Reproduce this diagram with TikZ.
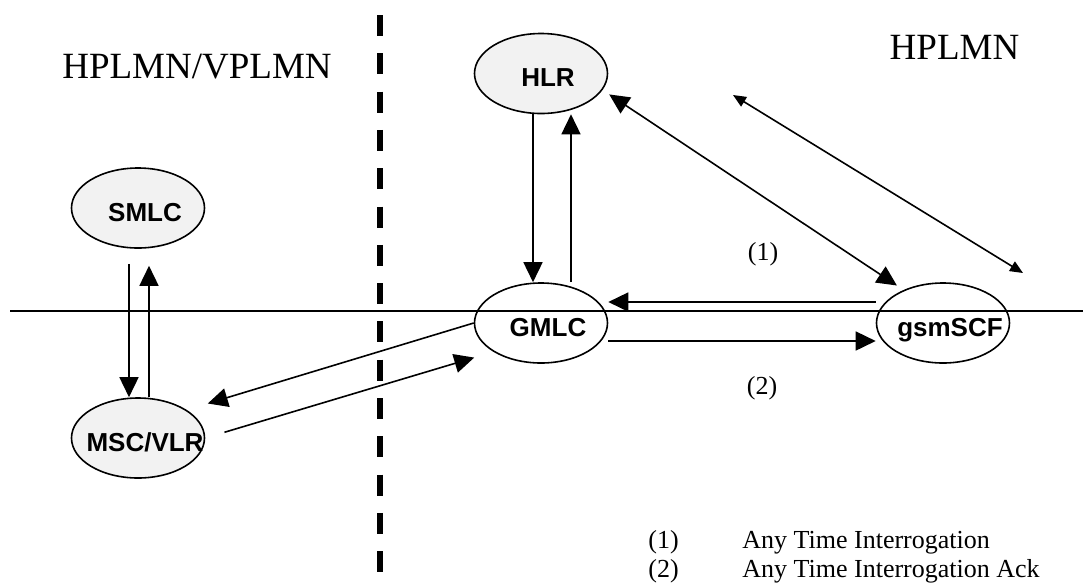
\documentclass[tikz,border=0pt]{standalone}
\usepackage{fontspec}
\setmainfont{Liberation Serif}
\setsansfont{Liberation Sans}
\usetikzlibrary{arrows.meta,shapes.geometric}
\definecolor{entgray}{HTML}{F2F2F2}
\newcommand{\enttext}[1]{\makebox[0pt]{\hspace*{7pt}\raisebox{-2pt}{#1}}}

\begin{document}
\begin{tikzpicture}[x=0.5pt, y=-0.5pt,
  ent/.style={draw, ellipse, line width=0.8pt, fill=#1, inner sep=0pt,
              minimum width=66.5pt, minimum height=40pt,
              text height=9.3pt, text depth=0pt,
              font=\sffamily\bfseries\fontsize{13}{15}\selectfont},
  ent/.default=none,
  zone/.style={inner sep=0pt, anchor=base, font=\fontsize{18.5}{22}\selectfont},
  lbl/.style={inner sep=0pt, font=\fontsize{13}{15}\selectfont},
  arr/.style={-{Triangle[length=10pt,width=9.5pt]}, line width=0.8pt},
  dblarr/.style={{Triangle[length=10pt,width=9.5pt]}-{Triangle[length=10pt,width=9.5pt]},
                 line width=0.8pt},
  dblsmall/.style={{Triangle[length=6.5pt,width=5.5pt]}-{Triangle[length=6.5pt,width=5.5pt]},
                   line width=0.8pt}
]
  \useasboundingbox (0,0) rectangle (1083,585);

  % --- Limites des reseaux ---
  \draw[line width=1pt] (10,311) -- (1083,311);
  \draw[line width=3pt, dash pattern=on 10.5pt off 8.65pt] (380,15) -- (380,572);

  \node[zone] (visite) at (197,78) {HPLMN/VPLMN};
  \node[zone] (home)   at (954.5,59) {HPLMN};

  % --- Entites ---
  \node[ent=entgray] (smlc) at (138,208)   {\enttext{SMLC}};
  \node[ent=entgray] (msc)  at (138,438)   {\enttext{MSC/VLR}};
  \node[ent=entgray] (hlr)  at (541,73.5)  {\enttext{HLR}};
  \node[ent]         (gmlc) at (541,323)   {\enttext{GMLC}};
  \node[ent]         (scf)  at (943,323)   {\enttext{gsmSCF}};

  % --- SMLC / MSC ---
  \draw[arr, shorten <=7.5pt] ([xshift=-4.5pt]smlc.south) -- ([xshift=-4.5pt]msc.north);
  \draw[arr, shorten >=8.5pt] ([xshift=5.5pt]msc.north) -- ([xshift=5.5pt]smlc.south);

  % --- MSC / GMLC ---
  \draw[arr, shorten >=11pt] (gmlc.west) -- (msc.30);
  \draw[arr, shorten <=10pt, shorten >=10pt] (msc.east) -- (gmlc.south west);

  % --- HLR / GMLC ---
  \draw[arr] ([xshift=-4pt]hlr.south) -- ([xshift=-4pt]gmlc.north);
  \draw[arr] ([xshift=15pt]gmlc.north) -- ([xshift=15pt]hlr.south);

  % --- GMLC / gsmSCF ---
  \draw[arr] ([yshift=10.5pt]scf.west) -- ([yshift=10.5pt]gmlc.east);
  \draw[arr] ([yshift=-9pt]gmlc.east) -- ([yshift=-9pt]scf.west);

  % --- HLR / gsmSCF ---
  \draw[dblarr, shorten <=4pt, shorten >=4pt] (hlr.-15) -- (scf.140);
  \coordinate (hautdroit) at (733,95);
  \coordinate (basdroit)  at (1023,273);
  \draw[dblsmall] (hautdroit) -- (basdroit);

  \node[lbl, anchor=base] (ati)    at (763,260) {(1)};
  \node[lbl, anchor=base] (atiack) at (762,394) {(2)};

  % --- Legende ---
  \node[lbl, anchor=base west] (num1) at (648,548) {(1)};
  \node[lbl, anchor=base west] (txt1) at (742,548) {Any Time Interrogation};
  \node[lbl, anchor=base west] (num2) at (648,577) {(2)};
  \node[lbl, anchor=base west] (txt2) at (742,577) {Any Time Interrogation Ack};
\end{tikzpicture}
\end{document}
